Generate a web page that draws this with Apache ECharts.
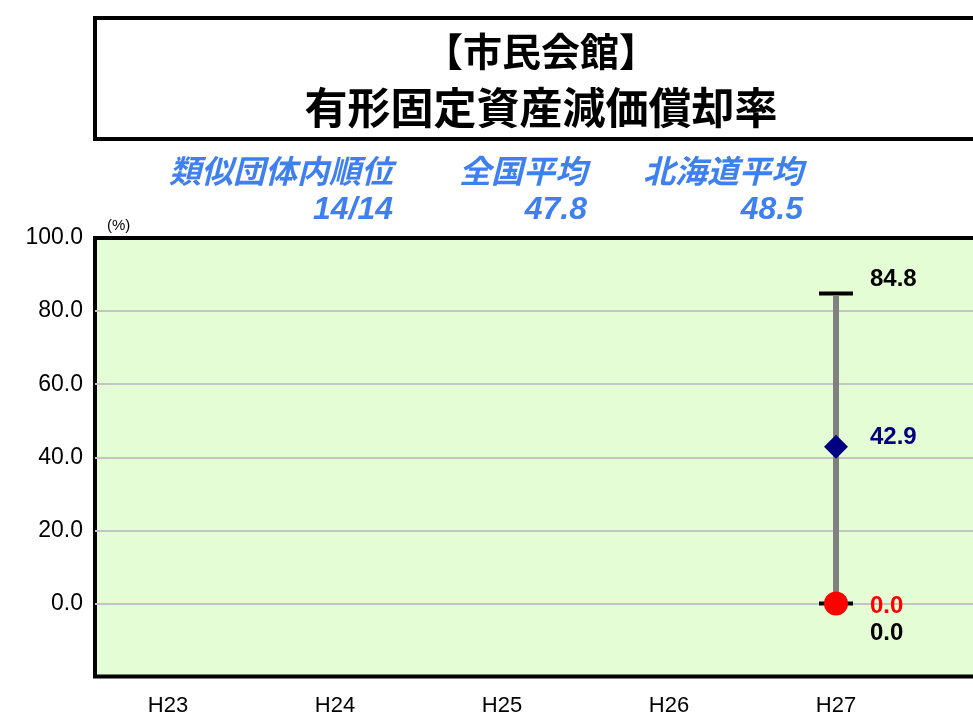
<!DOCTYPE html>
<html>
<head>
<meta charset="utf-8">
<style>
  html, body { margin: 0; padding: 0; background: #ffffff; overflow: hidden; }
  #chart { width: 973px; height: 718px; }
</style>
<script src="https://cdn.jsdelivr.net/npm/echarts@6/dist/echarts.min.js"></script>
</head>
<body>
<div id="chart"></div>
<script>
// Fiscal years on the horizontal axis
const categories = ['H23', 'H24', 'H25', 'H26', 'H27'];
// Similar-group maximum and minimum (range bar)
const groupMax = [null, null, null, null, 84.8];
const groupMin = [null, null, null, null, 0.0];
// Similar-group average (diamond)
const groupAvg = [null, null, null, null, 42.9];
// This facility's value (circle)
const ownValue = [null, null, null, null, 0.0];
// Vertical axis ticks
const yTicks = [-20, 0, 20, 40, 60, 80, 100];

// Header figures
const titleLines = ['【市民会館】', '有形固定資産減価償却率'];
const headerLabels = ['類似団体内順位', '全国平均', '北海道平均'];
const headerValues = ['14/14', '47.8', '48.5'];

const CJK = '"Noto Sans CJK JP", "Noto Sans", sans-serif';
const LAT = '"Liberation Sans", Arial, sans-serif';
const BLUE = '#3f80f0';

const rangeData = [];
const avgData = [];
const ownData = [];
categories.forEach((c, i) => {
  if (groupMax[i] != null && groupMin[i] != null) rangeData.push([i, groupMin[i], groupMax[i]]);
  if (groupAvg[i] != null) avgData.push([i, groupAvg[i]]);
  if (ownValue[i] != null) ownData.push([i, ownValue[i]]);
});

const chart = echarts.init(document.getElementById('chart'), null, { renderer: 'canvas' });

const headerX = [393, 587, 803];
const graphics = [
  {
    type: 'rect', z: 10,
    shape: { x: 95, y: 18, width: 920, height: 121 },
    style: { fill: '#ffffff', stroke: '#000000', lineWidth: 4 }
  },
  {
    type: 'text', z: 11, x: 541, y: 51,
    style: { text: titleLines[0], font: 'bold 39px ' + CJK, fill: '#000', align: 'center', verticalAlign: 'middle' }
  },
  {
    type: 'text', z: 11, x: 541, y: 108,
    style: { text: titleLines[1], font: 'bold 43px ' + CJK, fill: '#000', align: 'center', verticalAlign: 'middle' }
  },
  {
    type: 'text', z: 11, x: 107, y: 226,
    style: { text: '(%)', font: '15px ' + LAT, fill: '#000', align: 'left', verticalAlign: 'middle' }
  }
];
headerLabels.forEach((t, i) => {
  graphics.push({
    type: 'text', z: 11, x: headerX[i], y: 171,
    style: { text: t, font: 'italic bold 32px ' + CJK, fill: BLUE, align: 'right', verticalAlign: 'middle' }
  });
  graphics.push({
    type: 'text', z: 11, x: headerX[i], y: 210,
    style: { text: headerValues[i], font: 'italic bold 32px ' + LAT, fill: BLUE, align: 'right', verticalAlign: 'middle' }
  });
});

const option = {
  animation: false,
  backgroundColor: '#ffffff',
  grid: {
    left: 95, top: 238, width: 900, bottom: 41.5,
    outerBoundsMode: 'none',
    containLabel: false,
    show: true,
    backgroundColor: '#e4fdd4',
    borderColor: '#000000',
    borderWidth: 4
  },
  xAxis: {
    type: 'value',
    min: -0.437,
    max: 4.952,
    axisLine: { show: false, onZero: false },
    axisTick: { show: false },
    splitLine: { show: false },
    axisLabel: {
      customValues: categories.map((c, i) => i),
      formatter: (v) => categories[Math.round(v)] || '',
      fontFamily: LAT, fontSize: 22, color: '#000', margin: 18
    }
  },
  yAxis: {
    type: 'value',
    min: yTicks[0],
    max: yTicks[yTicks.length - 1],
    interval: 20,
    axisLine: { show: false },
    axisTick: { show: false },
    splitLine: {
      show: true, showMinLine: false, showMaxLine: false,
      lineStyle: { color: '#c4c4c4', width: 2 }
    },
    axisLabel: {
      formatter: (v) => (v === yTicks[0] ? '' : v.toFixed(1)),
      fontFamily: LAT, fontSize: 23, color: '#000', margin: 12
    }
  },
  series: [
    {
      type: 'custom',
      name: 'range',
      z: 3,
      data: rangeData,
      renderItem: (params, api) => {
        const x = api.value(0), lo = api.value(1), hi = api.value(2);
        const pHi = api.coord([x, hi]);
        const pLo = api.coord([x, lo]);
        const cap = 17;
        return {
          type: 'group',
          children: [
            { type: 'line', shape: { x1: pHi[0] - cap, y1: pHi[1], x2: pHi[0] + cap, y2: pHi[1] },
              style: { stroke: '#000', lineWidth: 4 } },
            { type: 'line', shape: { x1: pLo[0] - cap, y1: pLo[1], x2: pLo[0] + cap, y2: pLo[1] },
              style: { stroke: '#000', lineWidth: 4 } },
            { type: 'line', shape: { x1: pHi[0], y1: pHi[1] + 2, x2: pLo[0], y2: pLo[1] },
              style: { stroke: '#808080', lineWidth: 6 } },
            { type: 'text', x: pHi[0] + 34, y: pHi[1] - 14,
              style: { text: hi.toFixed(1), font: 'bold 24px ' + LAT, fill: '#000', align: 'left', verticalAlign: 'middle' } },
            { type: 'text', x: pLo[0] + 34, y: pLo[1] + 30,
              style: { text: lo.toFixed(1), font: 'bold 24px ' + LAT, fill: '#000', align: 'left', verticalAlign: 'middle' } }
          ]
        };
      }
    },
    {
      type: 'scatter',
      name: 'average',
      z: 4,
      data: avgData,
      symbol: 'diamond',
      symbolSize: 24,
      itemStyle: { color: '#000080', opacity: 1 },
      label: {
        show: true, position: 'right', distance: 0, offset: [22, -9],
        formatter: (p) => p.value[1].toFixed(1),
        fontFamily: LAT, fontWeight: 'bold', fontSize: 24, color: '#000080'
      }
    },
    {
      type: 'scatter',
      name: 'own',
      z: 5,
      data: ownData,
      symbol: 'circle',
      symbolSize: 24,
      itemStyle: { color: '#ff0000', opacity: 1 },
      label: {
        show: true, position: 'right', distance: 0, offset: [22, 3],
        formatter: (p) => p.value[1].toFixed(1),
        fontFamily: LAT, fontWeight: 'bold', fontSize: 24, color: '#ff0000'
      }
    }
  ],
  graphic: graphics
};

chart.setOption(option);
</script>
</body>
</html>
